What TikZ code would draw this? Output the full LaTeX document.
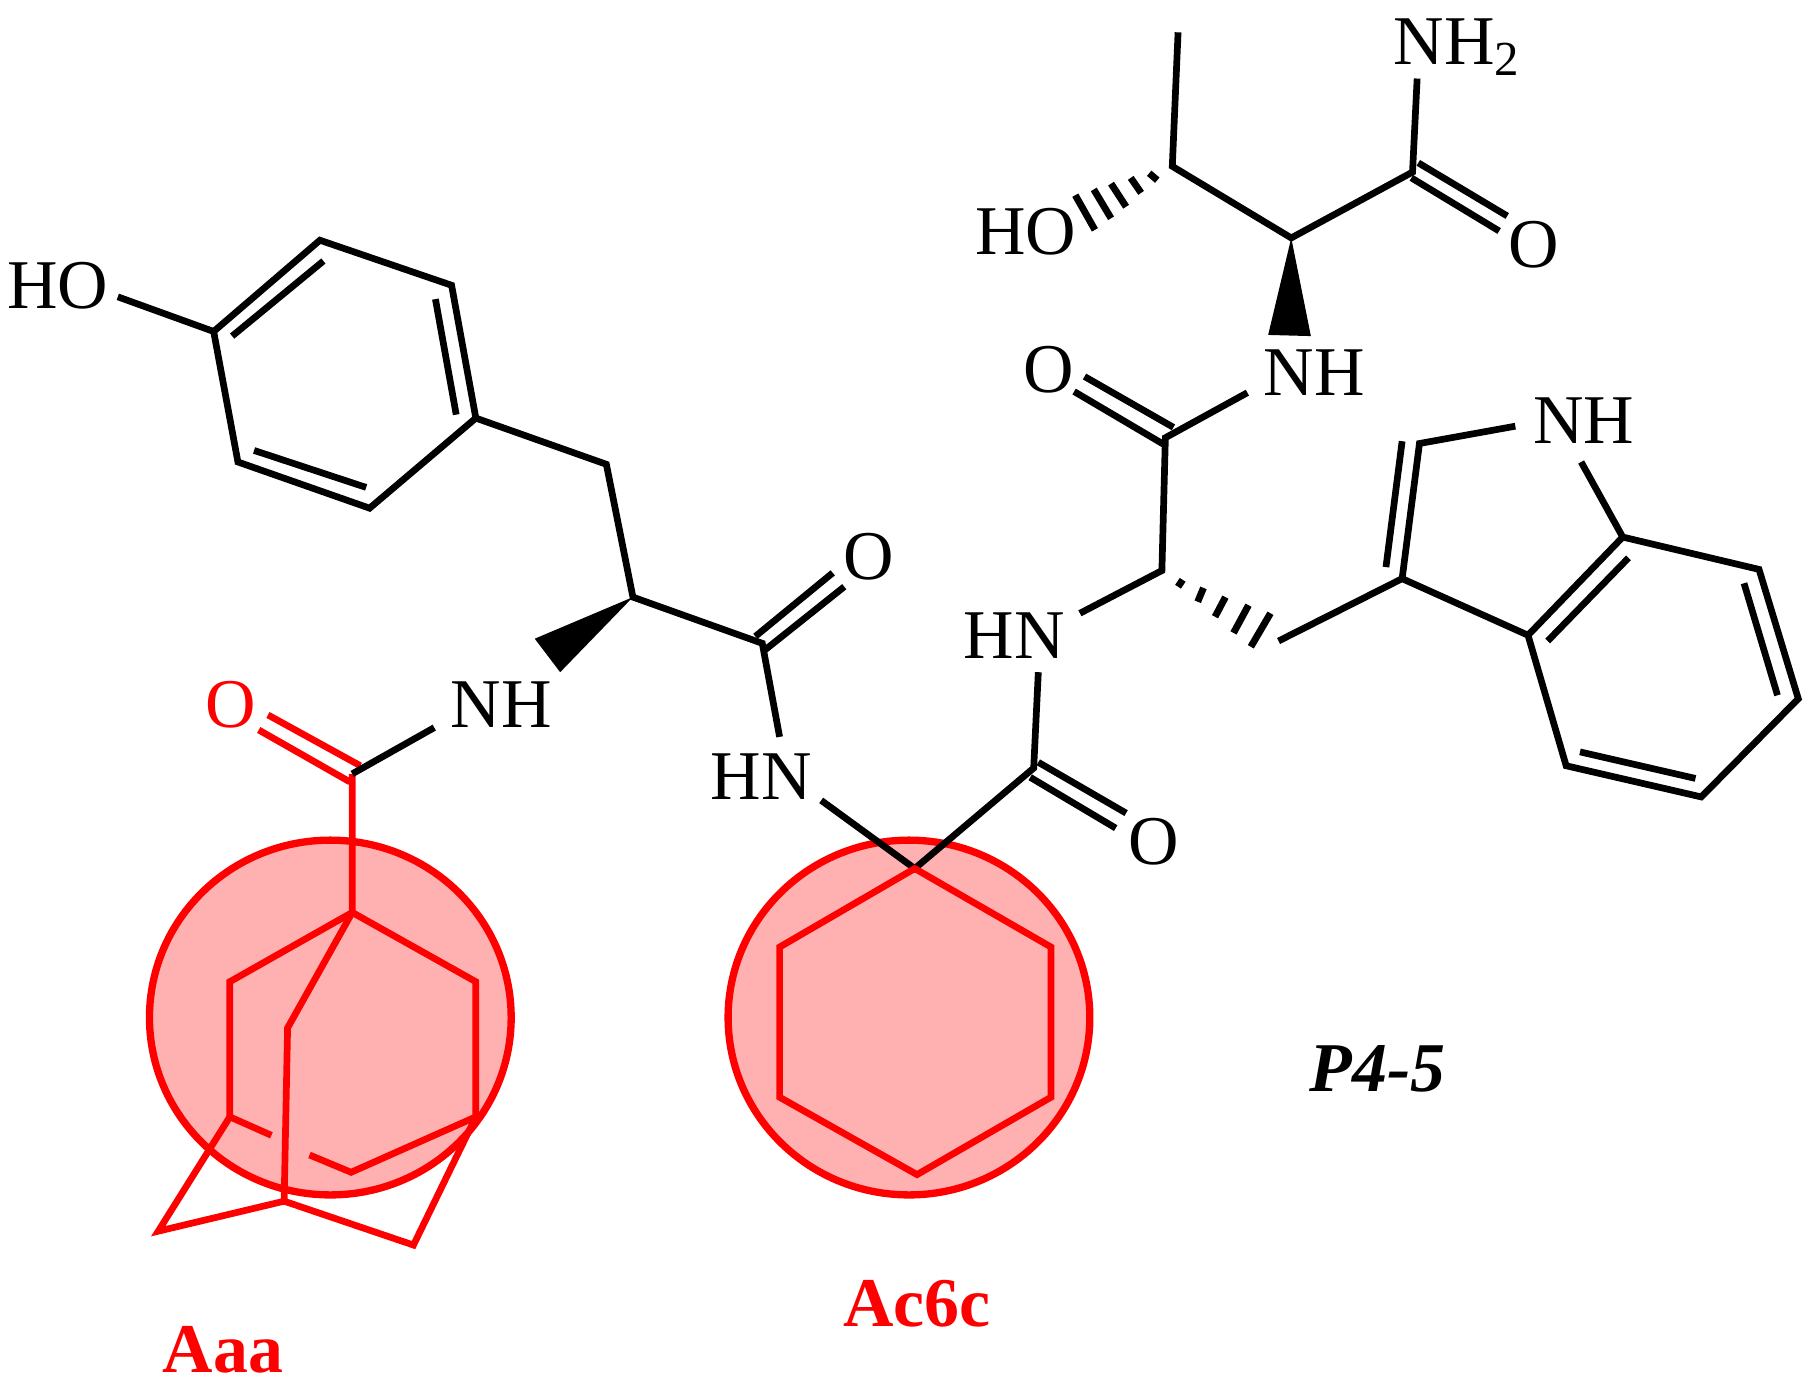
\documentclass[tikz,border=0pt]{standalone}
\usepackage{fontspec}
\setmainfont{Liberation Serif}
\usetikzlibrary{calc}
\definecolor{ringfill}{RGB}{255,176,176}
\tikzset{
	bond/.style = {line width = 1.65pt, line join = miter, line cap = butt},
	hash/.style = {line width = 1.7pt},
	atom/.style = {inner sep = 0pt, font = \fontsize{17.2}{17.2}\selectfont},
	tag/.style = {inner sep = 0pt, font = \fontsize{17.2}{17.2}\selectfont\bfseries},
	halo/.style = {draw = red, fill = ringfill, line width = 1.8pt},
}
\begin{document}
\begin{tikzpicture}[x = 0.01cm, y = -0.01cm]
	\useasboundingbox (0, 0) rectangle (1568, 1200);
	% circles go first
	\draw[halo] (286, 881) ellipse [x radius = 1.565cm, y radius = 1.535cm];
	\draw[halo] (787, 881) ellipse [x radius = 1.565cm, y radius = 1.535cm];

	% threonine end
	\node[atom] (nh2) at (1262, 41){NH\textsubscript{2}};
	\node[atom] (o1) at (1328, 212){O};
	\node[atom] (ho1) at (888, 201){HO};
	\node[atom] (nh1) at (1138, 323){NH};
	\coordinate (me) at (1020, 28);
	\coordinate (cb) at (1015, 144);
	\coordinate (ca1) at (1118, 206);
	\coordinate (c1) at (1223, 149);
	\coordinate (nh2end) at (1227, 68);
	\draw[bond] (me) -- (cb) -- (ca1) -- (c1) -- (nh2end);
	\draw[bond] (1228, 141) -- (1305, 187);
	\draw[bond] (1222, 154) -- (1298, 200);
	\fill (ca1) -- (1098, 290) -- (1135, 291) -- cycle;
	\draw[hash] (995, 150) -- (1002, 156);
	\draw[hash] (979, 154) -- (988, 167);
	\draw[hash] (962, 159) -- (975, 179);
	\draw[hash] (947, 164) -- (962, 189);
	\draw[hash] (931, 169) -- (948, 199);

	% tryptophan
	\node[atom] (o2) at (908, 320){O};
	\node[atom] (nh3) at (1371, 364){NH};
	\node[atom] (hn1) at (878, 550){HN};
	\coordinate (c2) at (1009, 379);
	\coordinate (n1end) at (1080, 340);
	\coordinate (ca2) at (1006, 494);
	\coordinate (n2end) at (935, 531);
	\coordinate (ch2a) at (1107, 555);
	\coordinate (c3) at (1214, 501);
	\coordinate (c2i) at (1229, 384);
	\coordinate (n3a) at (1312, 369);
	\coordinate (n3b) at (1369, 400);
	\coordinate (c7a) at (1405, 465);
	\coordinate (c7) at (1523, 493);
	\coordinate (c6) at (1557, 605);
	\coordinate (c5) at (1473, 690);
	\coordinate (c4) at (1356, 663);
	\coordinate (c3a) at (1323, 550);
	\draw[bond] (n1end) -- (c2) -- (ca2) -- (n2end);
	\draw[bond] (939, 326) -- (1016, 370);
	\draw[bond] (930, 339) -- (1008, 385);
	\draw[bond] (ch2a) -- (c3) -- (c2i) -- (n3a);
	\draw[bond] (1200, 491) -- (1214, 382);
	\draw[bond] (n3b) -- (c7a) -- (c7) -- (c6) -- (c5) -- (c4) -- (c3a) -- (c3);
	\draw[bond] (c3a) -- (c7a);
	\draw[bond] (1340, 555) -- (1410, 483);
	\draw[bond] (1510, 505) -- (1539, 602);
	\draw[bond] (1468, 674) -- (1368, 651);
	\draw[hash] (1024, 502) -- (1020, 508);
	\draw[hash] (1042, 509) -- (1037, 521);
	\draw[hash] (1061, 517) -- (1052, 534);
	\draw[hash] (1081, 524) -- (1068, 548);
	\draw[hash] (1100, 531) -- (1083, 560);

	% cyclohexane unit
	\node[atom] (o3) at (999, 729){O};
	\node[atom] (hn2) at (659, 672){HN};
	\coordinate (c3o) at (895, 665);
	\coordinate (n4end) at (899, 582);
	\coordinate (ac) at (792, 752);
	\coordinate (n5end) at (711, 693);
	\draw[bond] (n4end) -- (c3o) -- (ac) -- (n5end);
	\draw[bond] (899, 660) -- (975, 704);
	\draw[bond] (892, 673) -- (966, 717);
	\draw[bond, red] (ac) -- (910, 820) -- (910, 950) -- (794, 1017) -- (675, 950) -- (675, 820) -- cycle;

	% tyrosine
	\node[atom] (o4) at (752, 482){O};
	\node[atom] (ho2) at (50, 247){HO};
	\node[atom] (nh4) at (434, 610){NH};
	\coordinate (c4o) at (660, 557);
	\coordinate (n6end) at (675, 638);
	\coordinate (ca3) at (548, 517);
	\coordinate (ch2b) at (525, 402);
	\coordinate (r1) at (412, 362);
	\coordinate (r2) at (391, 247);
	\coordinate (r3) at (277, 208);
	\coordinate (r4) at (185, 287);
	\coordinate (r5) at (206, 400);
	\coordinate (r6) at (320, 440);
	\coordinate (oend) at (102, 257);
	\draw[bond] (n6end) -- (c4o) -- (ca3) -- (ch2b) -- (r1) -- (r2) -- (r3) -- (r4) -- (r5) -- (r6) -- (r1);
	\draw[bond] (r4) -- (oend);
	\draw[bond] (377, 259) -- (395, 359);
	\draw[bond] (280, 226) -- (201, 291);
	\draw[bond] (220, 390) -- (317, 422);
	\draw[bond] (654, 551) -- (721, 496);
	\draw[bond] (662, 563) -- (731, 508);
	\fill (ca3) -- (463, 553) -- (485, 582) -- cycle;

	% adamantane cap
	\node[atom, red] (o5) at (200, 610){O};
	\coordinate (c5o) at (305, 670);
	\coordinate (n7end) at (376, 630);
	\coordinate (ad1) at (305, 790);
	\coordinate (ad2) at (199, 850);
	\coordinate (ad3) at (199, 967);
	\coordinate (ad4) at (412, 850);
	\coordinate (ad5) at (412, 967);
	\coordinate (ad6) at (304, 1015);
	\coordinate (ad7) at (249, 890);
	\coordinate (ad8) at (246, 1040);
	\coordinate (ad9) at (137, 1066);
	\coordinate (ad10) at (358, 1078);
	\draw[bond, red] (c5o) -- (ad1) -- (ad2) -- (ad3) -- (235, 983);
	\draw[bond, red] (ad1) -- (ad4) -- (ad5) -- (ad6) -- (268, 1000);
	\draw[bond, red] (ad1) -- (ad7) -- (ad8) -- (ad9) -- (ad3);
	\draw[bond, red] (ad8) -- (ad10) -- (ad5);
	\draw[bond, red] (232, 619) -- (312, 663);
	\draw[bond, red] (224, 632) -- (303, 677);
	\draw[bond] (c5o) -- (n7end);

	% labels
	\node[tag, red] (aaa) at (193, 1169){Aaa};
	\node[tag, red] (ac6c) at (794, 1129){Ac6c};
	\node[tag] (pname) at (1193, 925){\itshape P4-5};
\end{tikzpicture}
\end{document}
